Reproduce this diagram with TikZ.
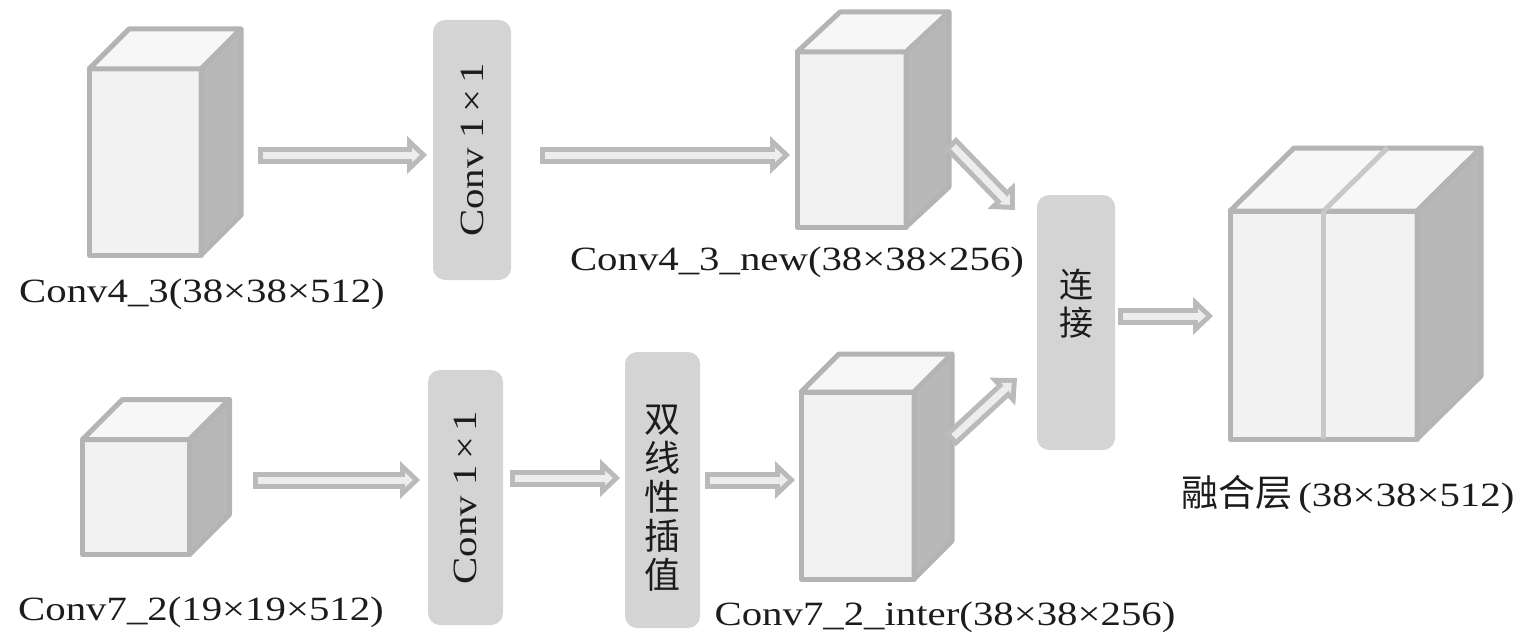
\documentclass[tikz,border=0pt]{standalone}
\usepackage{fontspec}
\setmainfont{Liberation Serif}[FakeStretch=1.2]
\newfontfamily\cjk{Noto Sans CJK SC}
\usetikzlibrary{arrows.meta,calc}

\definecolor{edgegray}{HTML}{B4B4B4}
\definecolor{frontgray}{HTML}{F2F2F2}
\definecolor{topgray}{HTML}{F7F7F7}
\definecolor{sidegray}{HTML}{B8B8B8}
\definecolor{boxgray}{HTML}{D4D4D4}
\definecolor{arrowgray}{HTML}{BABABA}
\definecolor{arrowfill}{HTML}{EDEDED}
\definecolor{splitgray}{HTML}{C8C8C8}
\definecolor{textgray}{HTML}{1C1C1C}

\tikzset{
  face/.style={draw=edgegray, line width=2.5pt, line join=round, fill=frontgray, inner sep=0pt, outer sep=0pt},
  layer/.style={fill=boxgray, rounded corners=6pt, inner sep=0pt, outer sep=0pt,
    minimum width=39pt, text=textgray, font=\fontsize{17pt}{20pt}\selectfont},
  flow/.style={
    preaction={draw=arrowgray, line width=8.5pt, shorten >=0pt, shorten <=0pt,
      -{Triangle[length=10pt,width=19pt,line width=0pt]}},
    draw=arrowfill, line width=3.5pt, shorten <=2.5pt, shorten >=3.6pt,
    -{Triangle[length=3.9pt,width=7.3pt,line width=0pt]}},
  tag/.style={anchor=base, inner sep=0pt, text=textgray, font=\fontsize{17pt}{20pt}\selectfont},
  divider/.style={draw=splitgray, line width=2.5pt},
}

% top and right faces of a block
\newcommand{\cubefaces}[3]{%
  \filldraw[face, fill=topgray] (#1.north west) -- ++(#2,-#3)
    -- ($(#1.north east)+(#2,-#3)$) -- (#1.north east) -- cycle;
  \filldraw[face, fill=sidegray] (#1.north east) -- ++(#2,-#3)
    -- ($(#1.south east)+(#2,-#3)$) -- (#1.south east) -- cycle;
}

\begin{document}
\begin{tikzpicture}[x=0.5pt, y=-0.5pt]
  \useasboundingbox (0,0) rectangle (1535,642);

  % Feature maps
  \node[face, minimum width=56pt, minimum height=93pt] (c43) at (145,162) {};
  \cubefaces{c43}{40}{40}
  \node[face, minimum width=54.5pt, minimum height=87.5pt] (c43n) at (851.5,139.5) {};
  \cubefaces{c43n}{43}{40}
  \node[face, minimum width=53.5pt, minimum height=57.5pt] (c72) at (136,497) {};
  \cubefaces{c72}{40}{40}
  \node[face, minimum width=56.5pt, minimum height=93.5pt] (c72i) at (857.5,485.5) {};
  \cubefaces{c72i}{38}{38}
  \node[face, minimum width=93.5pt, minimum height=114pt] (fuse) at (1323.5,325) {};
  \cubefaces{fuse}{64}{63}
  \draw[divider] (fuse.north) -- (fuse.south);
  \draw[divider] (fuse.north) -- ++(64,-63);

  % Labels
  \node[tag] (t43) at (202,302) {Conv4\_3(38×38×512)};
  \node[tag] (t43n) at (797,270) {Conv4\_3\_new(38×38×256)};
  \node[tag] (t72) at (201,620) {Conv7\_2(19×19×512)};
  \node[tag] (t72i) at (945,625) {Conv7\_2\_inter(38×38×256)};
  \node[tag] (tfuse) at (1348,506) {{\cjk\fontsize{18.5pt}{20pt}\selectfont 融合层}\,(38×38×512)};

  % Operations
  \node[layer, minimum height=130pt] (k1) at (472,150) {\rotatebox{90}{Conv 1\,×\,1}};
  \node[layer, minimum width=37.5pt, minimum height=127.5pt] (k2) at (465.5,497.5) {\rotatebox{90}{Conv 1\,×\,1}};
  \node[layer, minimum width=37.5pt, minimum height=138pt,
    label={[yshift=-4pt, text=textgray, font=\cjk\fontsize{18pt}{20pt}\selectfont]center:\shortstack{双\\线\\性\\插\\值}}] (bil) at (662.5,490) {};
  \node[layer, minimum height=127.5pt,
    label={[yshift=9.5pt, text=textgray, font=\cjk\fontsize{17pt}{19pt}\selectfont]center:\shortstack{连\\接}}] (cat) at (1076,322.5) {};

  % Connections
  \draw[flow] ($(c43.east)+(57,-7)$) -- ($(k1.west)+(-6,5)$);
  \draw[flow] ($(k1.east)+(29,5)$) -- ($(c43n.west)+(-7,15.5)$);
  \draw[flow] ($(c72.east)+(63.5,-17)$) -- ($(k2.west)+(-8,-17.5)$);
  \draw[flow] ($(k2.east)+(7,-19.5)$) -- ($(bil.west)+(-5,-12)$);
  \draw[flow] ($(bil.east)+(5,-10)$) -- ($(c72i.west)+(-6,-5.5)$);
  \draw[flow] ($(c43n.east)+(44,3.5)$) -- ($(cat.north west)+(-22,15)$);
  \draw[flow] ($(c72i.east)+(36,-45.5)$) -- ($(cat.south west)+(-20,-72)$);
  \draw[flow] ($(cat.east)+(3,-6.5)$) -- ($(fuse.west)+(-17,-9)$);
\end{tikzpicture}
\end{document}
